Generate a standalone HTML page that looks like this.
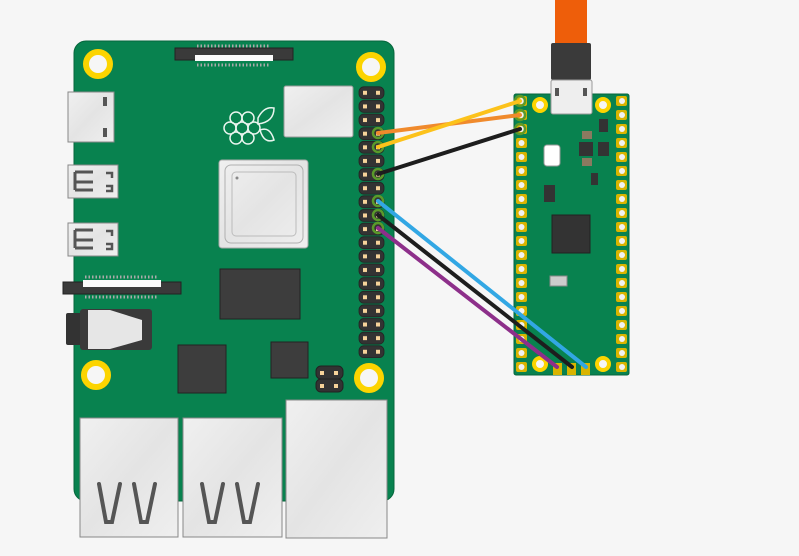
<!DOCTYPE html>
<html><head><style>html,body{margin:0;padding:0;background:#f6f6f6;}svg{display:block}</style></head>
<body>
<svg width="799" height="556" viewBox="0 0 799 556" xmlns="http://www.w3.org/2000/svg">
<defs>
<pattern id="hdr" x="358" y="86" width="27" height="13.63" patternUnits="userSpaceOnUse">
<rect x="1" y="0.8" width="25" height="12" rx="5" fill="#333" stroke="#222" stroke-width="0.8"/>
<rect x="5" y="4.8" width="4" height="4" fill="#f6d39a"/>
<rect x="18" y="4.8" width="4" height="4" fill="#f6d39a"/>
</pattern>
<pattern id="pad" x="514" y="94" width="14" height="14" patternUnits="userSpaceOnUse">
<rect x="2" y="2" width="11" height="10" rx="2" fill="#d9b400"/>
<circle cx="7.5" cy="7" r="3" fill="#f2f2f2"/>
</pattern>
<pattern id="padr" x="615" y="94" width="14" height="14" patternUnits="userSpaceOnUse">
<rect x="1" y="2" width="11" height="10" rx="2" fill="#d9b400"/>
<circle cx="7" cy="7" r="3" fill="#f2f2f2"/>
</pattern>
<linearGradient id="sh" x1="0" y1="0" x2="1" y2="1">
<stop offset="0" stop-color="#f0f0f0"/><stop offset="0.5" stop-color="#e4e4e4"/><stop offset="1" stop-color="#efefef"/>
</linearGradient>
</defs>

<!-- Pi board -->
<rect x="74" y="41" width="320" height="460" rx="12" fill="#08824f" stroke="#06663c" stroke-width="1"/>
<!-- camera connector top -->
<rect x="175" y="48" width="118" height="12" fill="#3a3a3a" stroke="#222"/>
<rect x="195" y="55" width="78" height="6" fill="#fafafa"/>
<line x1="197" y1="46" x2="270" y2="46" stroke="#aaa" stroke-width="3" stroke-dasharray="1.5,2"/>
<line x1="197" y1="65" x2="270" y2="65" stroke="#aaa" stroke-width="3" stroke-dasharray="1.5,2"/>
<!-- holes -->
<g fill="#f6f6f6" stroke="#fcd400" stroke-width="6">
<circle cx="98" cy="64" r="12"/><circle cx="371" cy="67" r="12"/>
<circle cx="96" cy="375" r="12"/><circle cx="369" cy="378" r="12"/>
</g>
<!-- left ports -->
<rect x="68" y="92" width="46" height="50" fill="url(#sh)" stroke="#888"/>
<rect x="103" y="97" width="4" height="9" fill="#555"/><rect x="103" y="128" width="4" height="9" fill="#555"/>
<rect x="68" y="165" width="50" height="33" fill="url(#sh)" stroke="#888"/>
<path d="M75 172 h18 M75 182 h18 M75 190 h18 M75 172 v18" stroke="#555" stroke-width="3" fill="none"/>
<path d="M106 173 h6 v5 M106 186 h6 v5 h-6" stroke="#555" stroke-width="2.5" fill="none"/>
<rect x="68" y="223" width="50" height="33" fill="url(#sh)" stroke="#888"/>
<path d="M75 230 h18 M75 240 h18 M75 248 h18 M75 230 v18" stroke="#555" stroke-width="3" fill="none"/>
<path d="M106 231 h6 v5 M106 244 h6 v5 h-6" stroke="#555" stroke-width="2.5" fill="none"/>
<!-- display connector -->
<rect x="63" y="282" width="118" height="12" fill="#3a3a3a" stroke="#222"/>
<rect x="83" y="280" width="78" height="7" fill="#fafafa"/>
<line x1="85" y1="277" x2="158" y2="277" stroke="#aaa" stroke-width="3" stroke-dasharray="1.5,2"/>
<line x1="85" y1="297" x2="158" y2="297" stroke="#aaa" stroke-width="3" stroke-dasharray="1.5,2"/>
<!-- audio jack -->
<rect x="66" y="313" width="16" height="32" rx="2" fill="#333"/>
<rect x="80" y="309" width="72" height="41" rx="3" fill="#3a3a3a"/>
<path d="M88 310 h22 l32 10 v20 l-32 9 h-22 z" fill="#e6e6e6"/>
<!-- logo -->
<g fill="none" stroke="#e8f5ee" stroke-width="1.5">
<circle cx="236" cy="118" r="6"/><circle cx="248" cy="118" r="6"/><circle cx="230" cy="128" r="6"/>
<circle cx="242" cy="128" r="6"/><circle cx="254" cy="128" r="6"/><circle cx="236" cy="138" r="6"/><circle cx="248" cy="138" r="6"/>
<path d="M258 118 q6 -12 16 -10 q0 14 -16 16z M260 130 q10 -4 14 10 q-10 4 -14 -10z"/>
</g>
<!-- chips -->
<rect x="284" y="86" width="69" height="51" rx="2" fill="url(#sh)" stroke="#999"/>
<rect x="219" y="160" width="89" height="88" rx="3" fill="url(#sh)" stroke="#aaa"/>
<rect x="225" y="165" width="78" height="78" rx="6" fill="none" stroke="#b0b0b0"/>
<rect x="232" y="172" width="64" height="64" rx="4" fill="none" stroke="#bbb"/>
<circle cx="237" cy="178" r="1.5" fill="#888"/>
<rect x="220" y="269" width="80" height="50" fill="#3d3d3d" stroke="#222"/>
<rect x="178" y="345" width="48" height="48" fill="#3d3d3d" stroke="#222"/>
<rect x="271" y="342" width="37" height="36" fill="#3d3d3d" stroke="#222"/>
<!-- small 2-pin header -->
<rect x="316" y="366" width="27" height="13" rx="5" fill="#333" stroke="#222"/>
<rect x="316" y="379" width="27" height="13" rx="5" fill="#333" stroke="#222"/>
<rect x="320" y="371" width="4" height="4" fill="#f6d39a"/><rect x="334" y="371" width="4" height="4" fill="#f6d39a"/>
<rect x="320" y="384" width="4" height="4" fill="#f6d39a"/><rect x="334" y="384" width="4" height="4" fill="#f6d39a"/>
<!-- GPIO header -->
<rect x="358" y="86" width="27" height="272" fill="url(#hdr)"/>
<!-- bottom ports -->
<rect x="80" y="418" width="98" height="119" fill="url(#sh)" stroke="#888"/>
<rect x="183" y="418" width="99" height="119" fill="url(#sh)" stroke="#888"/>
<rect x="286" y="400" width="101" height="138" fill="url(#sh)" stroke="#888"/>
<g stroke="#555" stroke-width="4" fill="none" stroke-linecap="round">
<path d="M99 484 l7 38 h6 l8 -38"/><path d="M134 484 l7 38 h6 l8 -38"/>
<path d="M202 484 l7 38 h6 l8 -38"/><path d="M237 484 l7 38 h6 l8 -38"/>
</g>

<!-- Pico -->
<rect x="555" y="0" width="32" height="44" fill="#ee5e0a"/>
<rect x="551" y="43" width="40" height="37" rx="2" fill="#3a3a3a"/>
<rect x="514" y="94" width="115" height="281" rx="2" fill="#08824f" stroke="#06663c"/>
<rect x="551" y="80" width="41" height="34" rx="2" fill="#eeeeee" stroke="#999"/>
<rect x="555" y="88" width="4" height="8" fill="#555"/><rect x="583" y="88" width="4" height="8" fill="#555"/>
<rect x="514" y="94" width="14" height="281" fill="url(#pad)"/>
<rect x="615" y="94" width="14" height="281" fill="url(#padr)"/>
<g fill="#f6f6f6" stroke="#fcd400" stroke-width="4">
<circle cx="540" cy="105" r="6"/><circle cx="603" cy="105" r="6"/>
<circle cx="540" cy="364" r="6"/><circle cx="603" cy="364" r="6"/>
</g>
<rect x="544" y="145" width="16" height="21" rx="3" fill="#fff" stroke="#999"/>
<rect x="579" y="142" width="14" height="14" fill="#333"/>
<rect x="582" y="131" width="10" height="8" fill="#8a7a60"/><rect x="582" y="158" width="10" height="8" fill="#8a7a60"/>
<rect x="599" y="119" width="9" height="13" fill="#333"/><rect x="598" y="142" width="11" height="14" fill="#333"/>
<rect x="591" y="173" width="7" height="12" fill="#333"/>
<rect x="544" y="185" width="11" height="17" fill="#333"/>
<rect x="552" y="215" width="38" height="38" fill="#333" stroke="#222"/>
<rect x="550" y="276" width="17" height="10" fill="#ccc" stroke="#888"/>
<g fill="#d9b400"><rect x="553" y="363" width="9" height="12"/><rect x="567" y="363" width="9" height="12"/><rect x="581" y="363" width="9" height="12"/></g>

<!-- wire ends on pi -->
<g fill="none" stroke="#5a9a2a" stroke-width="2.5">
<circle cx="378" cy="133" r="5"/><circle cx="378" cy="147" r="5"/><circle cx="378" cy="174" r="5"/>
<circle cx="378" cy="201" r="5"/><circle cx="378" cy="215" r="5"/><circle cx="378" cy="228" r="5"/>
<circle cx="520" cy="101" r="5"/><circle cx="520" cy="115" r="5"/><circle cx="520" cy="129" r="5"/>
</g>
<!-- wires -->
<g stroke-width="4" stroke-linecap="round">
<line x1="378" y1="133" x2="520" y2="115" stroke="#f08a2c"/>
<line x1="378" y1="147" x2="520" y2="101" stroke="#fcc21b"/>
<line x1="378" y1="174" x2="520" y2="129" stroke="#1d1d1d"/>
<line x1="378" y1="201" x2="586" y2="367" stroke="#32a7e4"/>
<line x1="378" y1="215" x2="572" y2="367" stroke="#1d1d1d"/>
<line x1="378" y1="228" x2="557" y2="367" stroke="#8d2f8a"/>
</g>
</svg>
</body></html>
